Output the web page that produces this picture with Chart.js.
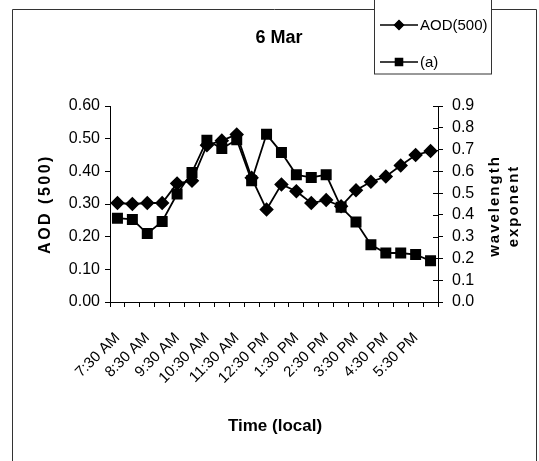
<!DOCTYPE html>
<html>
<head>
<meta charset="utf-8">
<script src="https://cdn.jsdelivr.net/npm/chart.js@4.4.0/dist/chart.umd.min.js"></script>
<style>
    html, body { margin: 0; padding: 0; background: #fff; }
    #wrap { width: 539px; height: 461px; }
</style>
</head>
<body>
<div id="wrap"><canvas id="c" width="539" height="461"></canvas></div>
<script>
// categorias: cada meia hora, 7:30 AM ate 6:00 PM
const times = [
    '7:30 AM', '8:00 AM', '8:30 AM', '9:00 AM', '9:30 AM', '10:00 AM',
    '10:30 AM', '11:00 AM', '11:30 AM', '12:00 PM', '12:30 PM', '1:00 PM',
    '1:30 PM', '2:00 PM', '2:30 PM', '3:00 PM', '3:30 PM', '4:00 PM',
    '4:30 PM', '5:00 PM', '5:30 PM', '6:00 PM'
];

// AOD(500), eixo esquerdo
const aod500 = [
    0.303, 0.300, 0.303, 0.303, 0.363, 0.371, 0.480, 0.494, 0.513, 0.380, 0.283,
    0.360, 0.339, 0.303, 0.312, 0.293, 0.342, 0.368, 0.384, 0.418, 0.450, 0.462
];

// (a) wavelength exponent, eixo direito
const alpha = [
    0.385, 0.379, 0.314, 0.370, 0.496, 0.595, 0.743, 0.705, 0.745, 0.557, 0.770,
    0.686, 0.584, 0.572, 0.584, 0.435, 0.367, 0.263, 0.225, 0.225, 0.218, 0.189
];

const titleText = '6 Mar';
const xTitle = 'Time (local)';
const yTitle = 'AOD (500)';
const y1Title = ['wavelength', 'exponent'];

const FONT = '"Liberation Sans", Arial, sans-serif';

const framePlugin = {
    id: 'frame',
    beforeDraw(chart) {
        const ctx = chart.ctx;
        ctx.save();
        ctx.strokeStyle = '#333';
        ctx.lineWidth = 1;
        ctx.beginPath();
        ctx.moveTo(12.5, 461);
        ctx.lineTo(12.5, 9.5);
        ctx.lineTo(536.5, 9.5);
        ctx.lineTo(536.5, 461);
        ctx.stroke();
        ctx.restore();
    },
    afterDraw(chart) {
        const ctx = chart.ctx;
        ctx.save();
        ctx.fillStyle = '#000';
        ctx.strokeStyle = '#000';

        // ticks internos do eixo direito
        const s = chart.scales.y1;
        ctx.lineWidth = 1;
        ctx.beginPath();
        s.ticks.forEach(t => {
            const y = Math.round(s.getPixelForValue(t.value)) + 0.5;
            ctx.moveTo(s.left - 5, y);
            ctx.lineTo(s.left, y);
        });
        ctx.stroke();

        // titulo
        ctx.textAlign = 'center';
        ctx.textBaseline = 'middle';
        ctx.font = 'bold 18px ' + FONT;
        ctx.fillText(titleText, 279, 38);

        ctx.font = 'bold 17px ' + FONT;
        ctx.fillText(xTitle, 275, 426);

        ctx.save();
        ctx.font = 'bold 16px ' + FONT;
        ctx.letterSpacing = '2.5px';
        ctx.translate(46, 204);
        ctx.rotate(-Math.PI / 2);
        ctx.fillText(yTitle, 0, 0);
        ctx.restore();

        ctx.save();
        ctx.font = 'bold 15px ' + FONT;
        ctx.letterSpacing = '2px';
        ctx.translate(495, 206);
        ctx.rotate(-Math.PI / 2);
        ctx.fillText(y1Title[0], 0, 0);
        ctx.fillText(y1Title[1], 0, 19);
        ctx.restore();

        // legenda
        ctx.fillStyle = '#fff';
        ctx.fillRect(374, -1, 117, 75);
        ctx.strokeStyle = '#333';
        ctx.strokeRect(374.5, -1, 117, 75);
        ctx.fillStyle = '#000';
        ctx.strokeStyle = '#000';
        ctx.font = '15px ' + FONT;
        ctx.textAlign = 'left';
        const rows = [25, 62];
        chart.data.datasets.forEach((ds, i) => {
            const y = rows[i];
            ctx.lineWidth = 1.5;
            ctx.beginPath();
            ctx.moveTo(380, y);
            ctx.lineTo(418, y);
            ctx.stroke();
            Chart.helpers.drawPoint(ctx, {
                pointStyle: ds.pointStyle,
                radius: ds.pointStyle === 'rect' ? 5 : 4.5,
                rotation: 0,
                borderWidth: 1
            }, 399, y);
            ctx.fill();
            ctx.fillText(ds.label, 420, y + 1);
        });
        ctx.restore();
    }
};

new Chart(document.getElementById('c'), {
    type: 'line',
    data: {
        labels: times,
        datasets: [
            {
                label: 'AOD(500)',
                data: aod500,
                yAxisID: 'y',
                borderColor: '#000',
                backgroundColor: '#000',
                borderWidth: 1.8,
                pointStyle: 'rectRot',
                pointRadius: 6,
                tension: 0
            },
            {
                label: '(a)',
                data: alpha,
                yAxisID: 'y1',
                borderColor: '#000',
                backgroundColor: '#000',
                borderWidth: 1.8,
                pointStyle: 'rect',
                pointRadius: 6.5,
                tension: 0
            }
        ]
    },
    options: {
        responsive: false,
        animation: false,
        layout: { padding: { top: 106, left: 0, right: 0, bottom: 0 } },
        plugins: {
            legend: { display: false },
            title: { display: false },
            tooltip: { enabled: false }
        },
        scales: {
            x: {
                type: 'category',
                offset: true,
                grid: { drawOnChartArea: false, drawTicks: true, tickLength: 5, color: '#000', offset: true },
                border: { display: true, color: '#000', width: 1 },
                ticks: {
                    autoSkip: false,
                    maxRotation: 45,
                    minRotation: 45,
                    padding: 22,
                    color: '#000',
                    font: { family: FONT, size: 15 },
                    callback(v, i) { return i % 2 === 0 ? this.getLabelForValue(v) : ''; }
                },
                afterFit(s) { s.height = 461 - 302; }
            },
            y: {
                position: 'left',
                min: 0,
                max: 0.6,
                grid: { drawOnChartArea: false, drawTicks: true, tickLength: 5, color: '#000' },
                border: { display: true, color: '#000', width: 1 },
                ticks: {
                    stepSize: 0.1,
                    autoSkip: false,
                    padding: 5,
                    color: '#000',
                    font: { family: FONT, size: 16 },
                    callback: v => v.toFixed(2)
                },
                afterFit(s) { s.width = 110; }
            },
            y1: {
                position: 'right',
                min: 0,
                max: 0.9,
                grid: { drawOnChartArea: false, drawTicks: true, tickLength: 5, color: '#000' },
                border: { display: true, color: '#000', width: 1 },
                ticks: {
                    stepSize: 0.1,
                    autoSkip: false,
                    padding: 9,
                    color: '#000',
                    font: { family: FONT, size: 16 },
                    callback: v => v.toFixed(1)
                },
                afterFit(s) { s.width = 539 - 438; }
            }
        }
    },
    plugins: [framePlugin]
});
</script>
</body>
</html>
